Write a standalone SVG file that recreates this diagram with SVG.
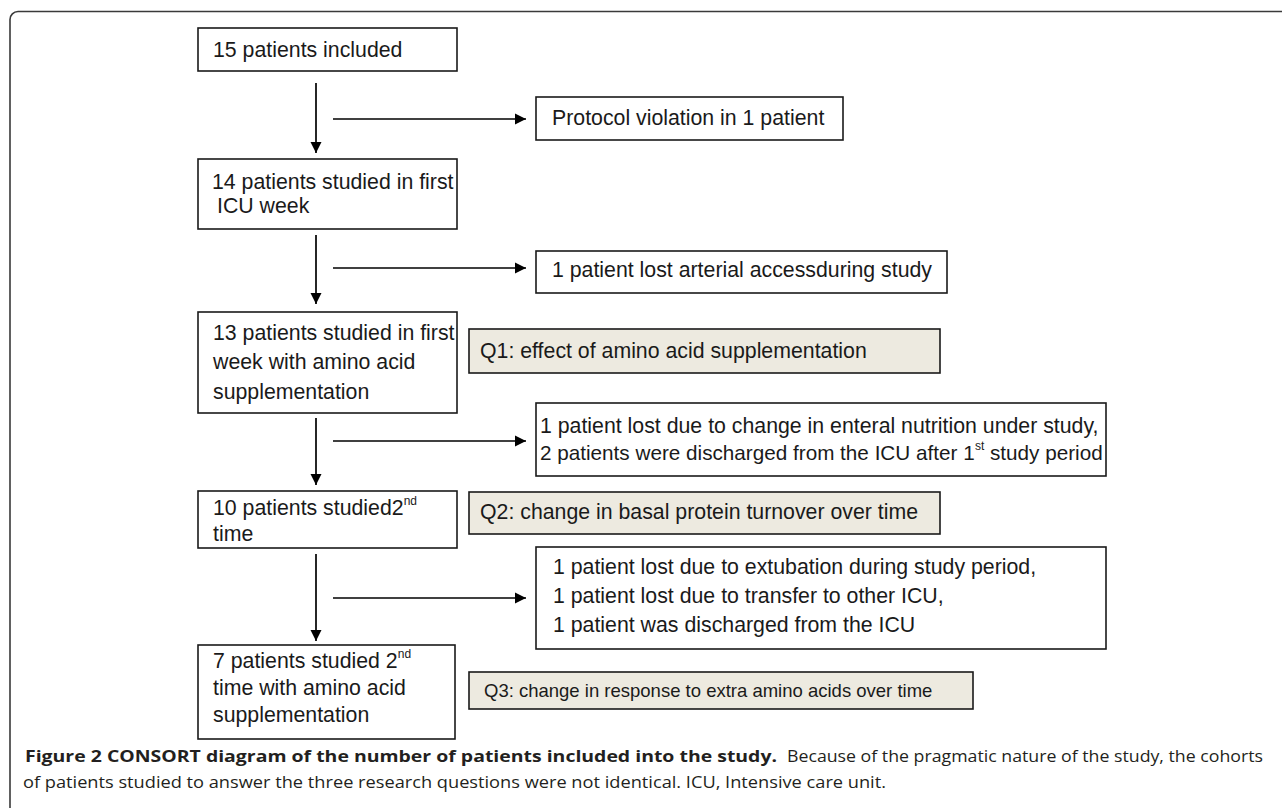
<svg xmlns="http://www.w3.org/2000/svg" width="1282" height="808" viewBox="0 0 1282 808">
<defs>
<style>
.box{fill:#ffffff;stroke:#1a1a1a;stroke-width:1.6}
.q{fill:#EDEAE0;stroke:#1a1a1a;stroke-width:1.6}
.t{font-family:"Liberation Sans",Arial,Helvetica,sans-serif;font-size:21.3px;fill:#1a1a1a}
.t3{font-family:"Liberation Sans",Arial,Helvetica,sans-serif;font-size:18.5px;fill:#1a1a1a}
.sup{font-size:12px}
.cap{font-family:"Open Sans","Noto Sans",sans-serif;font-size:16px;fill:#231f20}
.capb{font-family:"Open Sans","Noto Sans",sans-serif;font-size:16.5px;font-weight:bold;fill:#231f20}
.ln{stroke:#000;stroke-width:1.7;fill:none;marker-end:url(#ah)}
</style>
<marker id="ah" markerUnits="userSpaceOnUse" markerWidth="12" markerHeight="12" refX="11" refY="6" orient="auto">
<path d="M0,0.5 L11,6 L0,11.5 Z" fill="#000"/>
</marker>
</defs>
<rect width="1282" height="808" fill="#ffffff"/>
<rect x="10" y="11.5" width="1300" height="830" rx="8" ry="8" fill="none" stroke="#3a3a3a" stroke-width="1.6"/>

<g id="connectors">
<line class="ln" x1="316" y1="83" x2="316" y2="153"/>
<line class="ln" x1="316" y1="235" x2="316" y2="304"/>
<line class="ln" x1="316" y1="418" x2="316" y2="485"/>
<line class="ln" x1="316" y1="554" x2="316" y2="641"/>
<line class="ln" x1="333" y1="119" x2="526" y2="119"/>
<line class="ln" x1="333" y1="268" x2="526" y2="268"/>
<line class="ln" x1="333" y1="441" x2="526" y2="441"/>
<line class="ln" x1="333" y1="598" x2="526" y2="598"/>
</g>

<g id="n1">
<rect class="box" x="198" y="28" width="259" height="43"/>
<text class="t" x="213" y="57">15 patients included</text>
</g>
<g id="n_protocol">
<rect class="box" x="536" y="97" width="307" height="43"/>
<text class="t" x="552" y="125">Protocol violation in 1 patient</text>
</g>
<g id="n2">
<rect class="box" x="198" y="159" width="259" height="70"/>
<text class="t" x="212" y="189">14 patients studied in first</text>
<text class="t" x="217" y="213">ICU week</text>
</g>
<g id="n_arterial">
<rect class="box" x="536" y="251" width="411" height="42"/>
<text class="t" x="552" y="277">1 patient lost arterial accessduring study</text>
</g>
<g id="n3">
<rect class="box" x="198" y="312" width="259" height="101"/>
<text class="t" x="213" y="340">13 patients studied in first</text>
<text class="t" x="213" y="369">week with amino acid</text>
<text class="t" x="213" y="399">supplementation</text>
</g>
<g id="q1">
<rect class="q" x="469" y="329" width="471" height="44"/>
<text class="t" x="480" y="358">Q1: effect of amino acid supplementation</text>
</g>
<g id="n_lost2">
<rect class="box" x="536" y="403" width="570" height="73"/>
<text class="t" x="540" y="433">1 patient lost due to change in enteral nutrition under study,</text>
<text class="t" x="540" y="460"><tspan style="font-size:20.7px">2 patients were discharged from the ICU after 1</tspan><tspan class="sup" x="975" dy="-10">st</tspan><tspan x="990" dy="10" style="font-size:20.7px">study period</tspan></text>
</g>
<g id="n4">
<rect class="box" x="198" y="491" width="259" height="57"/>
<text class="t" x="213" y="515">10 patients studied2<tspan class="sup" dy="-10">nd</tspan></text>
<text class="t" x="213" y="541">time</text>
</g>
<g id="q2">
<rect class="q" x="469" y="492" width="471" height="42"/>
<text class="t" x="480" y="519">Q2: change in basal protein turnover over time</text>
</g>
<g id="n_lost3">
<rect class="box" x="536" y="547" width="570" height="102"/>
<text class="t" x="553" y="574">1 patient lost due to extubation during study period,</text>
<text class="t" x="553" y="603">1 patient lost due to transfer to other ICU,</text>
<text class="t" x="553" y="632">1 patient was discharged from the ICU</text>
</g>
<g id="n5">
<rect class="box" x="198" y="645" width="257" height="94"/>
<text class="t" x="213" y="668">7 patients studied 2<tspan class="sup" dy="-10">nd</tspan></text>
<text class="t" x="213" y="695">time with amino acid</text>
<text class="t" x="213" y="722">supplementation</text>
</g>
<g id="q3">
<rect class="q" x="469" y="672" width="504" height="37"/>
<text class="t3" x="484" y="697">Q3: change in response to extra amino acids over time</text>
</g>

<g id="caption">
<text class="capb" x="25" y="762" textLength="752" lengthAdjust="spacingAndGlyphs">Figure 2 CONSORT diagram of the number of patients included into the study.</text>
<text class="cap" x="787" y="762" textLength="476" lengthAdjust="spacingAndGlyphs">Because of the pragmatic nature of the study, the cohorts</text>
<text class="cap" x="23" y="788" textLength="863" lengthAdjust="spacingAndGlyphs">of patients studied to answer the three research questions were not identical. ICU, Intensive care unit.</text>
</g>
</svg>
